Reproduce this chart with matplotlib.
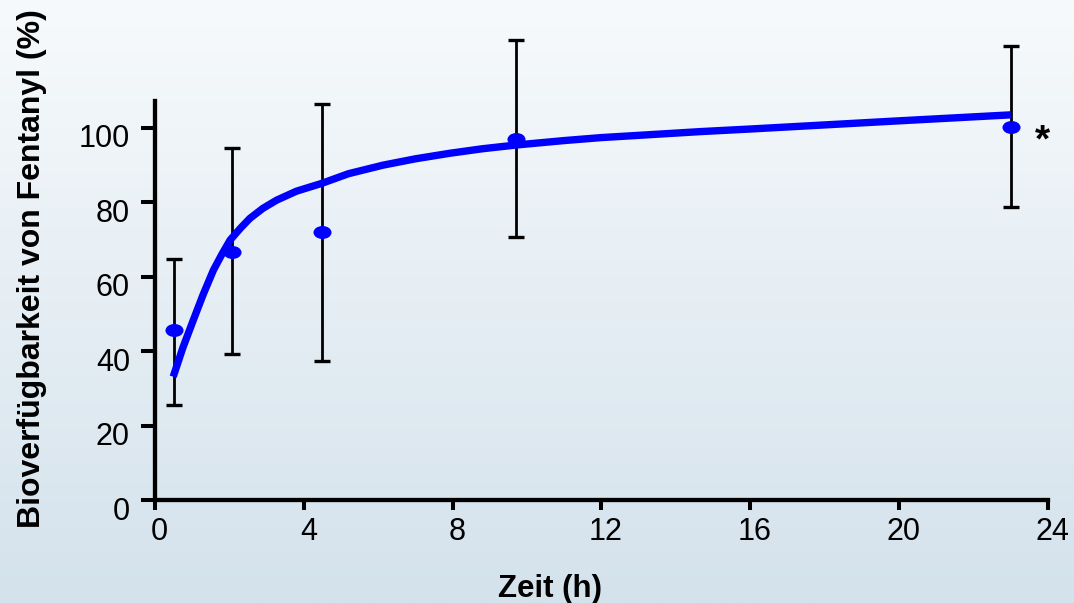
import numpy as np
import matplotlib
matplotlib.use("Agg")
import matplotlib.pyplot as plt
from matplotlib.path import Path
from matplotlib.transforms import Affine2D, ScaledTranslation

plt.rcParams['font.family'] = ['Liberation Sans', 'DejaVu Sans']

# Measured bioavailability (mean with error range)
time_h = [0.5, 2.08, 4.5, 9.7, 23.0]
bioavail = [45.6, 66.7, 71.9, 96.9, 100.2]
err_upper = [64.7, 94.5, 106.2, 123.5, 121.8]
err_lower = [25.5, 39.1, 37.3, 70.6, 78.7]

# Fitted curve
fit_time = [0.49, 0.75, 1.03, 1.3, 1.57, 1.8, 2.02, 2.3, 2.55, 2.9, 3.27,
            3.8, 4.48, 5.2, 6.13, 7.0, 7.93, 8.8, 9.7, 11.0, 12.0, 13.0,
            14.65, 16.0, 20.0, 23.0]
fit_value = [33.1, 40.9, 48.3, 55.3, 61.7, 66.0, 69.8, 73.0, 75.6, 78.3, 80.5,
             82.9, 85.0, 87.6, 89.9, 91.6, 93.1, 94.3, 95.3, 96.5, 97.3, 97.9,
             98.9, 99.6, 101.8, 103.4]

x_ticks = [0, 4, 8, 12, 16, 20, 24]
y_ticks = [0, 20, 40, 60, 80, 100]

fig = plt.figure(figsize=(10.74, 6.03), dpi=100)

# vertical gradient backdrop
bg = fig.add_axes([0, 0, 1, 1], zorder=-10)
top = np.array([247, 250, 252]) / 255.0
bot = np.array([212, 226, 236]) / 255.0
t = np.linspace(0, 1, 256)[:, None]
grad = (top[None, :] * (1 - t) + bot[None, :] * t)[:, None, :]
bg.imshow(grad, aspect='auto', extent=[0, 1, 0, 1], origin='upper')
bg.set_axis_off()

ax = fig.add_axes([0.1443, 0.1708, 0.8315, 0.6622])
ax.set_facecolor('none')

lo = np.array(bioavail) - np.array(err_lower)
hi = np.array(err_upper) - np.array(bioavail)
ax.errorbar(time_h, bioavail, yerr=[lo, hi], fmt='none', ecolor='black',
            elinewidth=2.0, capsize=5.5, capthick=2.4, zorder=2, clip_on=False)

ax.plot(fit_time, fit_value, color='#0000ff', lw=5.3, solid_capstyle='butt',
        solid_joinstyle='round', zorder=3, clip_on=False)

ellipse = Path.unit_circle().transformed(Affine2D().scale(1.0, 0.72))
ax.plot(time_h, bioavail, linestyle='none', marker=ellipse, markersize=13,
        color='#0000ff', markeredgewidth=0, zorder=4, clip_on=False)

ax.text(23.84, 93.6, '*', fontsize=28, fontweight='bold', ha='center',
        va='baseline')

ax.set_xlim(0, 24)
ax.set_ylim(0, 107.2)
ax.set_xticks(x_ticks)
ax.set_yticks(y_ticks)
ax.tick_params(axis='both', direction='out', width=2.9, labelsize=22,
               colors='black')
ax.tick_params(axis='x', length=7.5, pad=5)
ax.tick_params(axis='y', length=10, pad=8)
for side in ('top', 'right'):
    ax.spines[side].set_visible(False)
for side in ('left', 'bottom'):
    ax.spines[side].set_linewidth(3.1)

# tick labels sit slightly off their ticks
for lab in ax.get_yticklabels():
    lab.set_transform(lab.get_transform() +
                      ScaledTranslation(0, -0.08, fig.dpi_scale_trans))
for lab in ax.get_xticklabels():
    lab.set_transform(lab.get_transform() +
                      ScaledTranslation(0.045, 0, fig.dpi_scale_trans))

fig.text(550 / 1074, 1 - 597 / 603, 'Zeit (h)', fontsize=22.5,
         fontweight='bold', ha='center', va='baseline')
fig.text(32 / 1074, 1 - 269 / 603, 'Bioverfügbarkeit von Fentanyl (%)',
         fontsize=23, fontweight='bold', ha='center', va='center',
         rotation=90)

fig.savefig('out.png', dpi=100)
